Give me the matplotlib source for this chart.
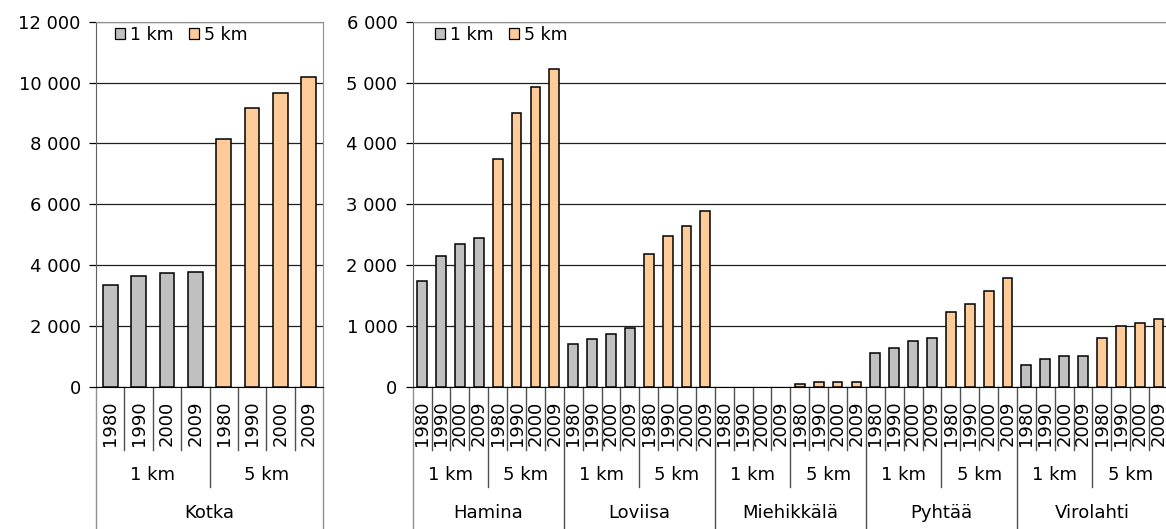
import matplotlib.pyplot as plt
import matplotlib.transforms as mtransforms
from matplotlib.patches import Patch
from matplotlib.ticker import FuncFormatter, MultipleLocator

years = ['1980', '1990', '2000', '2009']
distances = ['1 km', '5 km']

kotka_1km = [3340, 3640, 3730, 3760]
kotka_5km = [8130, 9170, 9670, 10190]

right_towns = ['Hamina', 'Loviisa', 'Miehikkälä', 'Pyhtää', 'Virolahti']
hamina_1km = [1740, 2150, 2350, 2450]
hamina_5km = [3740, 4500, 4920, 5230]
loviisa_1km = [700, 790, 870, 970]
loviisa_5km = [2180, 2480, 2640, 2890]
miehikkala_1km = [0, 0, 0, 0]
miehikkala_5km = [50, 70, 70, 70]
pyhtaa_1km = [550, 640, 750, 800]
pyhtaa_5km = [1220, 1360, 1580, 1780]
virolahti_1km = [360, 460, 500, 500]
virolahti_5km = [800, 990, 1050, 1120]

GREY = '#c0c0c0'
ORANGE = '#ffcc99'
SEP = '#505050'
FS = 13

plt.rcParams['font.family'] = 'DejaVu Sans'

W, H = 1166, 529
fig = plt.figure(figsize=(W / 100, H / 100), dpi=100)


def fy(py):
    # pixel row -> figure fraction
    return 1 - py / H


def space_thousands(v, pos):
    return f'{v:,.0f}'.replace(',', ' ')


def draw_panel(ax, towns, series, ymax, ystep, legend_x):
    n_years = len(years)
    x = 0
    for one, five in series:
        for vals, col in ((one, GREY), (five, ORANGE)):
            # empty values get no bar at all
            xs = [x + i for i, v in enumerate(vals) if v > 0]
            hs = [v for v in vals if v > 0]
            ax.bar(xs, hs, width=0.52, color=col, edgecolor='black',
                   linewidth=1.1, zorder=3)
            x += n_years
    n = x
    ax.set_xlim(-0.5, n - 0.5)
    ax.set_ylim(0, ymax)
    ax.yaxis.set_major_locator(MultipleLocator(ystep))
    ax.yaxis.set_major_formatter(FuncFormatter(space_thousands))
    ax.grid(axis='y', color='#202020', linewidth=0.9, zorder=1)
    ax.tick_params(axis='y', length=5, width=0.9, labelsize=FS, pad=6)
    ax.tick_params(axis='x', length=0, labelbottom=False)
    for s in ('top', 'right'):
        ax.spines[s].set_color('#909090')
    ax.spines['left'].set_color('#606060')
    ax.spines['bottom'].set_color('black')

    # multi-level category axis below the bars
    tr = mtransforms.blended_transform_factory(ax.transData, fig.transFigure)
    y0 = fy(386.7)
    for i in range(n):
        ax.text(i, fy(423), years[i % n_years], rotation=90, ha='center',
                va='center', fontsize=FS, transform=tr)
    # separators between years, distance groups and towns
    for i in range(1, n):
        if i % (2 * n_years) == 0:
            bottom = 0.0
        elif i % n_years == 0:
            bottom = fy(487)
        else:
            bottom = fy(450)
        ax.plot([i - 0.5, i - 0.5], [y0, bottom], color=SEP, lw=1,
                transform=tr, clip_on=False)
    for edge in (-0.5, n - 0.5):
        ax.plot([edge, edge], [y0, 0.0], color='#909090', lw=1,
                transform=tr, clip_on=False)
    for g in range(n // n_years):
        ax.text(g * n_years + (n_years - 1) / 2, fy(475), distances[g % 2],
                ha='center', va='center', fontsize=FS, transform=tr)
    for t, town in enumerate(towns):
        ax.text(t * 2 * n_years + n_years - 0.5, fy(513), town,
                ha='center', va='center', fontsize=FS, transform=tr)

    handles = [Patch(facecolor=GREY, edgecolor='black', linewidth=0.9),
               Patch(facecolor=ORANGE, edgecolor='black', linewidth=0.9)]
    ax.legend(handles, distances, loc='upper left', ncol=2, frameon=False,
              fontsize=12.5, handlelength=0.6, handleheight=0.6,
              handletextpad=0.25, columnspacing=0.9, borderaxespad=0,
              bbox_to_anchor=(legend_x / W, fy(19)),
              bbox_transform=fig.transFigure)


ax1 = fig.add_axes([96 / W, fy(386.7), (323 - 96) / W, (386.7 - 21.7) / H])
draw_panel(ax1, ['Kotka'], [(kotka_1km, kotka_5km)], 12000, 2000, 108)

ax2 = fig.add_axes([412.7 / W, fy(386.7), (1168 - 412.7) / W,
                    (386.7 - 21.7) / H])
draw_panel(ax2, right_towns,
           [(hamina_1km, hamina_5km), (loviisa_1km, loviisa_5km),
            (miehikkala_1km, miehikkala_5km), (pyhtaa_1km, pyhtaa_5km),
            (virolahti_1km, virolahti_5km)], 6000, 1000, 428)

fig.savefig('out.png', dpi=100)
